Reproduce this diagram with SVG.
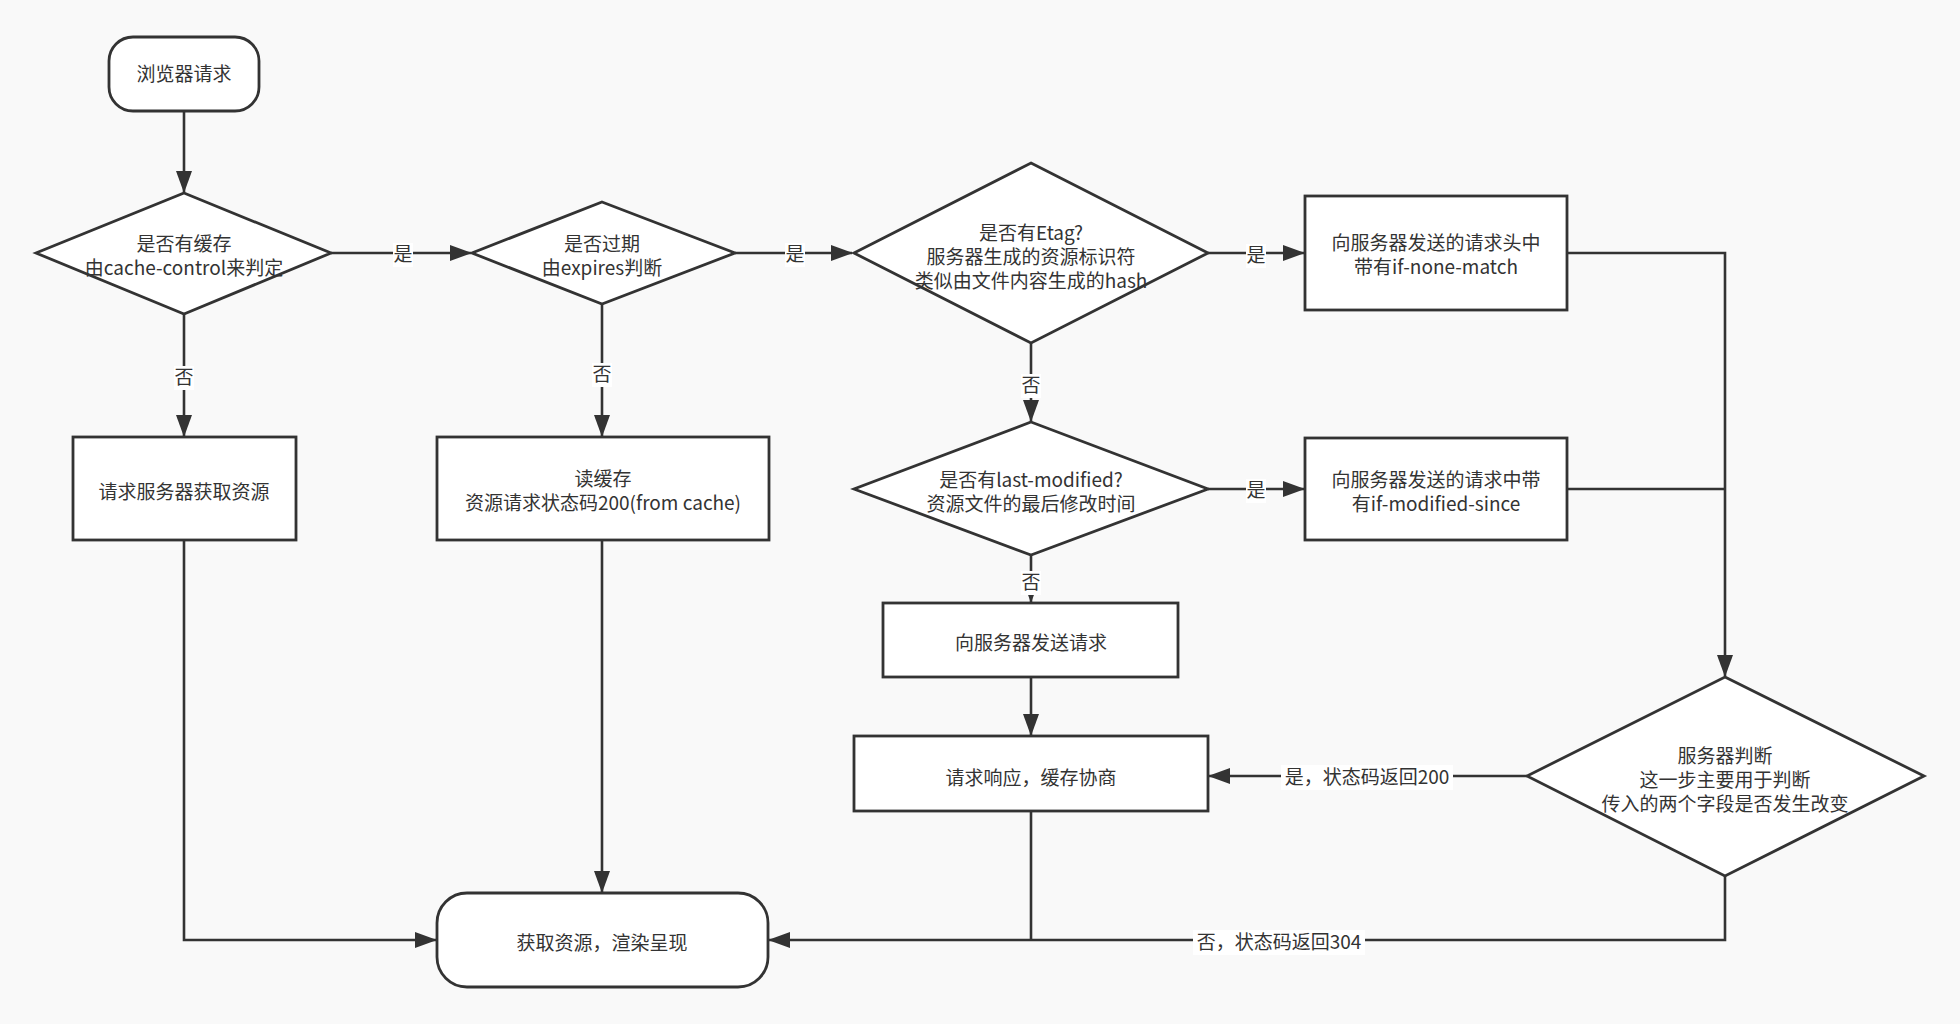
<svg xmlns="http://www.w3.org/2000/svg" width="1960" height="1024" viewBox="0 0 1960 1024">
<defs>
<marker id="arr" markerUnits="userSpaceOnUse" markerWidth="22" markerHeight="16" refX="21" refY="8" orient="auto">
<path d="M0,0 L22,8 L0,16 z" fill="#333"/>
</marker>
<style>
.n{fill:#fff;stroke:#333;stroke-width:2.8}
.c{fill:none;stroke:#333;stroke-width:2.6}
.t{font-family:"Noto Sans CJK SC","Liberation Sans",sans-serif;font-size:19px;fill:#333;text-anchor:middle}
.lb{fill:#fff}
</style>
</defs>
<rect width="1960" height="1024" fill="#f9f9f9"/>
<g id="connectors">
<path class="c" d="M184,112 L184,192" marker-end="url(#arr)"/>
<path class="c" d="M331,253 L471,253" marker-end="url(#arr)"/>
<path class="c" d="M735,253 L852,253" marker-end="url(#arr)"/>
<path class="c" d="M1208,253 L1304,253" marker-end="url(#arr)"/>
<path class="c" d="M184,314 L184,436" marker-end="url(#arr)"/>
<path class="c" d="M602,304 L602,436" marker-end="url(#arr)"/>
<path class="c" d="M1031,343 L1031,421" marker-end="url(#arr)"/>
<path class="c" d="M1208,489 L1304,489" marker-end="url(#arr)"/>
<path class="c" d="M1031,555 L1031,602" marker-end="url(#arr)"/>
<path class="c" d="M1031,677 L1031,735" marker-end="url(#arr)"/>
<path class="c" d="M1567,253 L1725,253 L1725,676" marker-end="url(#arr)"/>
<path class="c" d="M1567,489 L1725,489"/>
<path class="c" d="M1527,776 L1209,776" marker-end="url(#arr)"/>
<path class="c" d="M1725,876 L1725,940 L769,940" marker-end="url(#arr)"/>
<path class="c" d="M1031,811 L1031,940"/>
<path class="c" d="M184,540 L184,940 L436,940" marker-end="url(#arr)"/>
<path class="c" d="M602,540 L602,892" marker-end="url(#arr)"/>
<rect class="lb" x="393" y="243" width="20" height="24"/>
<text class="t" x="403" y="261">是</text>
<rect class="lb" x="785" y="243" width="20" height="24"/>
<text class="t" x="795" y="261">是</text>
<rect class="lb" x="1246" y="244" width="20" height="24"/>
<text class="t" x="1256" y="262">是</text>
<rect class="lb" x="1246" y="479" width="20" height="24"/>
<text class="t" x="1256" y="497">是</text>
<rect class="lb" x="174" y="366" width="20" height="24"/>
<text class="t" x="184" y="384">否</text>
<rect class="lb" x="592" y="363" width="20" height="24"/>
<text class="t" x="602" y="381">否</text>
<rect class="lb" x="1021" y="374" width="20" height="24"/>
<text class="t" x="1031" y="392">否</text>
<rect class="lb" x="1021" y="571" width="20" height="24"/>
<text class="t" x="1031" y="589">否</text>
<rect class="lb" x="1281" y="765" width="172" height="25"/>
<text class="t" x="1367" y="784">是，状态码返回200</text>
<rect class="lb" x="1193" y="930" width="172" height="25"/>
<text class="t" x="1279" y="949">否，状态码返回304</text>
</g>
<g id="start">
<rect class="n" x="109" y="37" width="150" height="74" rx="24" ry="24"/>
<text class="t" x="184" y="81">浏览器请求</text>
</g>
<g id="d-cache">
<polygon class="n" points="184,193 331,253 184,314 36,253"/>
<text class="t" x="184" y="251">是否有缓存</text>
<text class="t" x="184" y="275">由cache-control来判定</text>
</g>
<g id="d-expires">
<polygon class="n" points="602,202 735,253 602,304 472,253"/>
<text class="t" x="602" y="251">是否过期</text>
<text class="t" x="602" y="275">由expires判断</text>
</g>
<g id="d-etag">
<polygon class="n" points="1031,163 1208,253 1031,343 854,253"/>
<text class="t" x="1031" y="240">是否有Etag?</text>
<text class="t" x="1031" y="264">服务器生成的资源标识符</text>
<text class="t" x="1031" y="288">类似由文件内容生成的hash</text>
</g>
<g id="b-request">
<rect class="n" x="73" y="437" width="223" height="103"/>
<text class="t" x="184" y="499">请求服务器获取资源</text>
</g>
<g id="b-readcache">
<rect class="n" x="437" y="437" width="332" height="103"/>
<text class="t" x="603" y="486">读缓存</text>
<text class="t" x="603" y="510">资源请求状态码200(from cache)</text>
</g>
<g id="b-nonematch">
<rect class="n" x="1305" y="196" width="262" height="114"/>
<text class="t" x="1436" y="250">向服务器发送的请求头中</text>
<text class="t" x="1436" y="274">带有if-none-match</text>
</g>
<g id="d-lastmod">
<polygon class="n" points="1031,422 1208,489 1031,555 854,489"/>
<text class="t" x="1031" y="487">是否有last-modified?</text>
<text class="t" x="1031" y="511">资源文件的最后修改时间</text>
</g>
<g id="b-modsince">
<rect class="n" x="1305" y="438" width="262" height="102"/>
<text class="t" x="1436" y="487">向服务器发送的请求中带</text>
<text class="t" x="1436" y="511">有if-modified-since</text>
</g>
<g id="b-send">
<rect class="n" x="883" y="603" width="295" height="74"/>
<text class="t" x="1031" y="650">向服务器发送请求</text>
</g>
<g id="b-negotiate">
<rect class="n" x="854" y="736" width="354" height="75"/>
<text class="t" x="1031" y="785">请求响应，缓存协商</text>
</g>
<g id="d-server">
<polygon class="n" points="1725,677 1924,776 1725,876 1527,776"/>
<text class="t" x="1725" y="763">服务器判断</text>
<text class="t" x="1725" y="787">这一步主要用于判断</text>
<text class="t" x="1725" y="811">传入的两个字段是否发生改变</text>
</g>
<g id="end">
<rect class="n" x="437" y="893" width="331" height="94" rx="30" ry="30"/>
<text class="t" x="602" y="950">获取资源，渲染呈现</text>
</g>
</svg>
